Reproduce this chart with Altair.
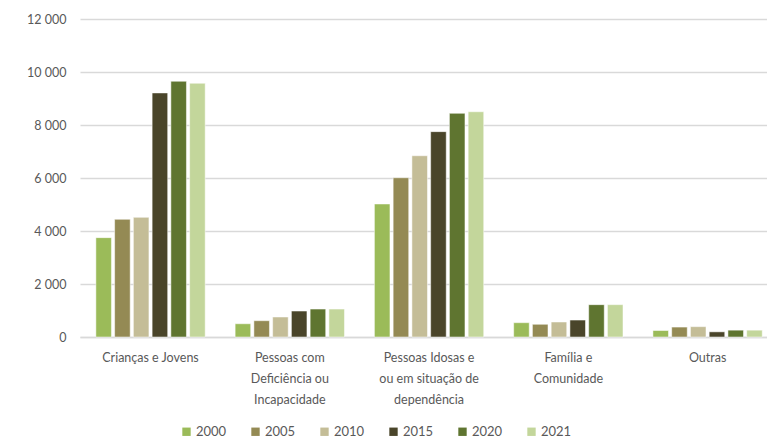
import altair as alt
import pandas as pd

# Categories (full names) and how they wrap under the axis
categories = [
    "Crianças e Jovens",
    "Pessoas com Deficiência ou Incapacidade",
    "Pessoas Idosas e ou em situação de dependência",
    "Família e Comunidade",
    "Outras",
]
wrapped = [
    ["Crianças e Jovens"],
    ["Pessoas com", "Deficiência ou", "Incapacidade"],
    ["Pessoas Idosas e", "ou em situação de", "dependência"],
    ["Família e", "Comunidade"],
    ["Outras"],
]
years = ["2000", "2005", "2010", "2015", "2020", "2021"]
colors = ["#9bbb59", "#948a54", "#c4bd97", "#4a452a", "#5f7530", "#c3d69b"]

v2000 = [3750, 500, 5020, 540, 245]
v2005 = [4440, 615, 6010, 480, 375]
v2010 = [4515, 755, 6840, 566, 390]
v2015 = [9210, 980, 7750, 640, 195]
v2020 = [9650, 1055, 8440, 1220, 258]
v2021 = [9575, 1055, 8500, 1220, 258]

series = [v2000, v2005, v2010, v2015, v2020, v2021]
rows = []
for yr, vals in zip(years, series):
    for cat, v in zip(categories, vals):
        rows.append({"categoria": cat, "ano": yr, "valor": v})
df = pd.DataFrame(rows)

label_map = "{" + ", ".join(
    f"{cat!r}: {lines!r}" for cat, lines in zip(categories, wrapped)
) + "}"

FONT = "Lato"
GREY = "#595959"

chart = alt.Chart(df).mark_bar(stroke="#ffffff", strokeWidth=0.5).encode(
    x=alt.X(
        "categoria:N",
        sort=categories,
        title=None,
        scale=alt.Scale(paddingInner=0.215, paddingOuter=0.074, align=0.77),
        axis=alt.Axis(
            labelExpr=f"{label_map}[datum.value]",
            labelAngle=0,
            labelFont=FONT,
            labelFontSize=12.5,
            labelColor=GREY,
            labelPadding=14,
            labelLineHeight=21,
            labelBaseline="top",
            ticks=False,
            domain=True,
            domainColor="#d9d9d9",
            domainWidth=1.5,
        ),
    ),
    xOffset=alt.XOffset("ano:N", sort=years, scale=alt.Scale(paddingInner=0.17)),
    y=alt.Y(
        "valor:Q",
        title=None,
        scale=alt.Scale(domain=[0, 12000], nice=False),
        axis=alt.Axis(
            values=[0, 2000, 4000, 6000, 8000, 10000, 12000],
            labelExpr="replace(format(datum.value, ','), ',', ' ')",
            labelFont=FONT,
            labelFontSize=12.5,
            labelColor=GREY,
            labelPadding=14,
            ticks=False,
            domain=False,
            grid=True,
            gridColor="#d9d9d9",
            gridWidth=1.5,
        ),
    ),
    color=alt.Color(
        "ano:N",
        sort=years,
        scale=alt.Scale(domain=years, range=colors),
        legend=alt.Legend(
            title=None,
            orient="none",
            legendX=100,
            legendY=406,
            direction="horizontal",
            columns=6,
            symbolType="square",
            symbolSize=70,
            symbolStrokeWidth=0,
            labelFont=FONT,
            labelFontSize=13,
            labelColor=GREY,
            labelOffset=3,
            columnPadding=22,
        ),
    ),
).properties(
    width=687,
    height=318,
    autosize=alt.AutoSizeParams(type="none"),
    padding={"left": 80, "top": 19, "right": 0, "bottom": 104},
).configure(background="#ffffff").configure_view(stroke=None)

chart.save("out.html", embed_options={"renderer": "svg", "actions": False})
